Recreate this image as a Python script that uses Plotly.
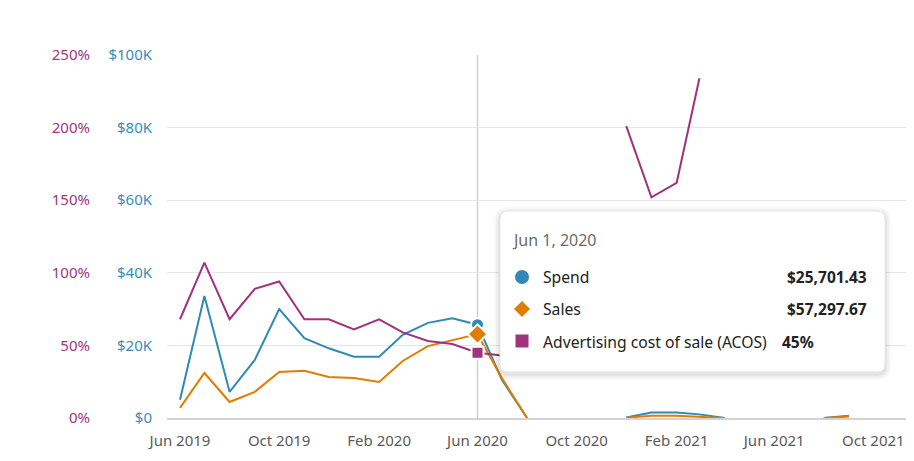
import plotly.graph_objects as go

months = ["2019-06-01","2019-07-01","2019-08-01","2019-09-01","2019-10-01","2019-11-01","2019-12-01",
          "2020-01-01","2020-02-01","2020-03-01","2020-04-01","2020-05-01","2020-06-01","2020-07-01",
          "2020-08-01","2020-09-01","2020-10-01","2020-11-01","2020-12-01","2021-01-01","2021-02-01",
          "2021-03-01","2021-04-01","2021-05-01","2021-06-01","2021-07-01","2021-08-01","2021-09-01"]
spend = [5000, 33600, 7200, 16000, 30000, 22000, 19200, 16900, 16900, 22900, 26200, 27500, 25701.43, 10500,
         0, None, None, None, 150, 1500, 1500, 1000, 0, None, None, None, 0, 600]
sales = [2800, 12400, 4400, 7200, 12700, 13000, 11300, 11000, 9900, 15700, 19800, 21500, 23100, 11000,
         0, None, None, None, 75, 600, 600, 400, 0, None, None, None, 0, 400]
acos = [68, 107, 68, 89, 94, 68, 68, 61, 68, 59, 53, 51, 45, 43,
        None, None, None, None, 201, 152, 162, 234, None, None, None, None, None, None]

usd_ticks = [0, 20000, 40000, 60000, 80000, 100000]
usd_labels = ["$0", "$20K", "$40K", "$60K", "$80K", "$100K"]
pct_ticks = [0, 50, 100, 150, 200, 250]
pct_labels = ["0%", "50%", "100%", "150%", "200%", "250%"]

hover_date = "2020-06-01"
tip_title = "Jun 1, 2020"
tip_names = ["Spend", "Sales", "Advertising cost of sale (ACOS)"]
tip_values = ["$25,701.43", "$57,297.67", "45%"]

BLUE = "#2f8ab5"
ORANGE = "#e07d00"
PURPLE = "#a0327e"
FONT = "Noto Sans"

# page body has an 8px margin; work in reference-pixel coordinates and shift
OFF = 8
W, H = 914 - OFF, 461 - OFF
PLOT_TOP, PLOT_BOT = 55, 418
T = PLOT_TOP - OFF
B = H - (PLOT_BOT - OFF)

def px(x):
    return (x - OFF) / W

def py(y):
    return (PLOT_BOT - y) / (PLOT_BOT - PLOT_TOP)

fig = go.Figure()
fig.add_trace(go.Scatter(x=months, y=spend, mode="lines", line=dict(color=BLUE, width=2), name="Spend",
                         yaxis="y", connectgaps=False))
fig.add_trace(go.Scatter(x=months, y=sales, mode="lines", line=dict(color=ORANGE, width=2), name="Sales",
                         yaxis="y", connectgaps=False))
fig.add_trace(go.Scatter(x=months, y=acos, mode="lines", line=dict(color=PURPLE, width=2), name="ACOS",
                         yaxis="y2", connectgaps=False))

hi = months.index(hover_date)
fig.add_trace(go.Scatter(x=[months[hi]], y=[spend[hi]], mode="markers", yaxis="y",
                         marker=dict(symbol="circle", size=13, color=BLUE, line=dict(color="white", width=2)),
                         cliponaxis=False))
fig.add_trace(go.Scatter(x=[months[hi]], y=[sales[hi]], mode="markers", yaxis="y",
                         marker=dict(symbol="diamond", size=15, color=ORANGE, line=dict(color="white", width=2)),
                         cliponaxis=False))
fig.add_trace(go.Scatter(x=[months[hi]], y=[acos[hi]], mode="markers", yaxis="y2",
                         marker=dict(symbol="square", size=12, color=PURPLE, line=dict(color="white", width=2)),
                         cliponaxis=False))

shapes = []
# hover line
shapes.append(dict(type="line", xref="x", yref="paper", x0=hover_date, x1=hover_date, y0=0, y1=1,
                   line=dict(color="#cfcfcf", width=1.5), layer="between"))

def rounded(x0, y0, x1, y1, r):
    return (f"M {px(x0 + r)} {py(y0)} L {px(x1 - r)} {py(y0)} Q {px(x1)} {py(y0)} {px(x1)} {py(y0 + r)} "
            f"L {px(x1)} {py(y1 - r)} Q {px(x1)} {py(y1)} {px(x1 - r)} {py(y1)} "
            f"L {px(x0 + r)} {py(y1)} Q {px(x0)} {py(y1)} {px(x0)} {py(y1 - r)} "
            f"L {px(x0)} {py(y0 + r)} Q {px(x0)} {py(y0)} {px(x0 + r)} {py(y0)} Z")

bx0, by0, bx1, by1 = 500, 211, 885, 372
for i, a in [(6, 0.025), (4, 0.035), (2, 0.05)]:
    shapes.append(dict(type="path", xref="paper", yref="paper",
                       path=rounded(bx0 - i, by0 - i + 2, bx1 + i, by1 + i + 2, 8 + i),
                       fillcolor=f"rgba(0,0,0,{a})", line=dict(width=0), layer="above"))
shapes.append(dict(type="path", xref="paper", yref="paper", path=rounded(bx0, by0, bx1, by1, 8),
                   fillcolor="white", line=dict(color="#e6e6e6", width=1), layer="above"))

# legend symbols in tooltip
cx = 522
shapes.append(dict(type="circle", xref="paper", yref="paper", x0=px(cx - 7), x1=px(cx + 7),
                   y0=py(277 + 7), y1=py(277 - 7), fillcolor=BLUE, line=dict(width=0), layer="above"))
d = 8
shapes.append(dict(type="path", xref="paper", yref="paper",
                   path=f"M {px(cx)} {py(309 - d)} L {px(cx + d)} {py(309)} L {px(cx)} {py(309 + d)} L {px(cx - d)} {py(309)} Z",
                   fillcolor=ORANGE, line=dict(width=0), layer="above"))
shapes.append(dict(type="rect", xref="paper", yref="paper", x0=px(cx - 6.5), x1=px(cx + 6.5),
                   y0=py(341 + 6.5), y1=py(341 - 6.5), fillcolor=PURPLE, line=dict(width=0), layer="above"))

annotations = []
annotations.append(dict(xref="paper", yref="paper", x=px(510), y=py(240), text=tip_title, showarrow=False,
                        xanchor="left", yanchor="middle", font=dict(family=FONT, size=16, color="#6b6b6b")))
rows_y = [277, 309, 342]
for name, yy in zip(tip_names, rows_y):
    annotations.append(dict(xref="paper", yref="paper", x=px(541), y=py(yy), text=name, showarrow=False,
                            xanchor="left", yanchor="middle", font=dict(family=FONT, size=15.7, color="#222222")))
for val, yy in zip(tip_values[:2], rows_y[:2]):
    annotations.append(dict(xref="paper", yref="paper", x=px(869), y=py(yy), text=f"<b>{val}</b>", showarrow=False,
                            xanchor="right", yanchor="middle", font=dict(family=FONT, size=15.5, color="#222222")))
annotations.append(dict(xref="paper", yref="paper", x=px(780), y=py(rows_y[2]), text=f"<b>{tip_values[2]}</b>",
                        showarrow=False, xanchor="left", yanchor="middle",
                        font=dict(family=FONT, size=15.5, color="#222222")))

fig.update_layout(
    width=W, height=H,
    margin=dict(l=0, r=0, t=T, b=B),
    paper_bgcolor="white", plot_bgcolor="white",
    showlegend=False,
    font=dict(family=FONT, size=15),
    xaxis=dict(type="date", domain=[px(167), 1], range=["2019-05-16", "2021-11-20"],
               tick0="2019-06-01", dtick="M4", tickformat="%b %Y",
               showgrid=False, zeroline=False, showline=True, linecolor="#d3d3d3", linewidth=2,
               ticks="outside", ticklen=8, tickcolor="rgba(0,0,0,0)",
               tickfont=dict(family=FONT, size=15, color="#5a5a5a"), automargin=False),
    yaxis=dict(range=[0, 100000], tickvals=usd_ticks, ticktext=usd_labels,
               showgrid=True, gridcolor="#e6e6e6", gridwidth=1, zeroline=False,
               ticks="outside", ticklen=11, tickcolor="rgba(0,0,0,0)",
               tickfont=dict(family=FONT, size=15, color="#3a8db8"), automargin=False),
    yaxis2=dict(range=[0, 250], tickvals=pct_ticks, ticktext=pct_labels, overlaying="y", side="left",
                anchor="free", position=px(90), showgrid=False, zeroline=False, showline=False,
                ticks="", tickfont=dict(family=FONT, size=15, color="#a3357e"), automargin=False),
    shapes=shapes,
    annotations=annotations,
)

fig.write_html("out.html")
